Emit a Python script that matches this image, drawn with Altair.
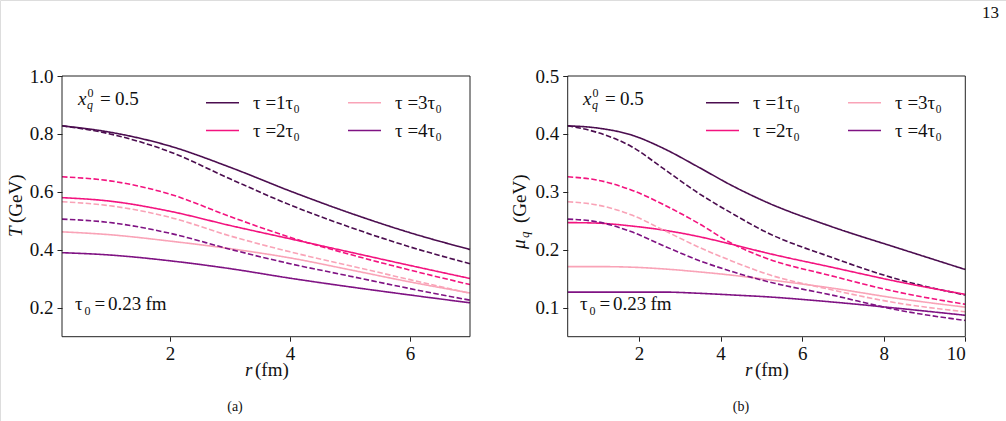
import altair as alt
import pandas as pd

# ---------------- data ----------------
tau_labels = ["τ =1τ₀", "τ =2τ₀", "τ =3τ₀", "τ =4τ₀"]
tau_colors = ["#4b0d4f", "#f3137f", "#f9a3b7", "#7f1283"]
styles = ["solid", "dashed"]

# panel (a): temperature T (GeV) vs r (fm)
r_a = [0.2, 1.0, 2.0, 3.0, 4.0, 5.0, 6.0, 7.0]
T_tau1_solid = [0.828, 0.806, 0.758, 0.685, 0.603, 0.527, 0.459, 0.401]
T_tau1_dashed = [0.828, 0.800, 0.738, 0.645, 0.555, 0.478, 0.410, 0.352]
T_tau2_solid = [0.580, 0.568, 0.533, 0.484, 0.438, 0.392, 0.346, 0.301]
T_tau2_dashed = [0.652, 0.638, 0.592, 0.515, 0.443, 0.384, 0.330, 0.280]
T_tau3_solid = [0.462, 0.452, 0.430, 0.404, 0.372, 0.331, 0.289, 0.251]
T_tau3_dashed = [0.566, 0.552, 0.512, 0.448, 0.393, 0.345, 0.297, 0.250]
T_tau4_solid = [0.390, 0.382, 0.362, 0.335, 0.302, 0.272, 0.244, 0.217]
T_tau4_dashed = [0.506, 0.494, 0.457, 0.402, 0.352, 0.309, 0.266, 0.226]

# panel (b): quark chemical potential mu_q (GeV) vs r (fm)
r_b = [0.25, 1.0, 1.82, 2.6, 3.45, 4.3, 5.1, 6.72, 8.35, 10.0]
mu_tau1_solid = [0.414, 0.410, 0.398, 0.375, 0.343, 0.310, 0.283, 0.240, 0.203, 0.166]
mu_tau1_dashed = [0.414, 0.402, 0.378, 0.340, 0.298, 0.262, 0.231, 0.187, 0.149, 0.122]
mu_tau2_solid = [0.247, 0.246, 0.241, 0.234, 0.223, 0.209, 0.195, 0.170, 0.145, 0.123]
mu_tau2_dashed = [0.326, 0.320, 0.303, 0.278, 0.246, 0.210, 0.186, 0.155, 0.127, 0.106]
mu_tau3_solid = [0.171, 0.171, 0.170, 0.167, 0.162, 0.156, 0.149, 0.134, 0.116, 0.101]
mu_tau3_dashed = [0.283, 0.277, 0.260, 0.234, 0.205, 0.180, 0.159, 0.131, 0.108, 0.093]
mu_tau4_solid = [0.127, 0.127, 0.127, 0.127, 0.125, 0.122, 0.119, 0.110, 0.099, 0.087]
mu_tau4_dashed = [0.253, 0.248, 0.231, 0.207, 0.182, 0.162, 0.146, 0.122, 0.096, 0.078]

xticks_a = [2, 4, 6]
yticks_a = [0.2, 0.4, 0.6, 0.8, 1.0]
xticks_b = [2, 4, 6, 8, 10]
yticks_b = [0.1, 0.2, 0.3, 0.4, 0.5]


def build(r, series):
    rows = []
    for (lab, sty), vals in series:
        for x, v in zip(r, vals):
            rows.append({"r": x, "v": v, "tau": lab, "style": sty})
    return pd.DataFrame(rows)


df_a = build(r_a, [
    ((tau_labels[0], "solid"), T_tau1_solid), ((tau_labels[0], "dashed"), T_tau1_dashed),
    ((tau_labels[1], "solid"), T_tau2_solid), ((tau_labels[1], "dashed"), T_tau2_dashed),
    ((tau_labels[2], "solid"), T_tau3_solid), ((tau_labels[2], "dashed"), T_tau3_dashed),
    ((tau_labels[3], "solid"), T_tau4_solid), ((tau_labels[3], "dashed"), T_tau4_dashed),
])
df_b = build(r_b, [
    ((tau_labels[0], "solid"), mu_tau1_solid), ((tau_labels[0], "dashed"), mu_tau1_dashed),
    ((tau_labels[1], "solid"), mu_tau2_solid), ((tau_labels[1], "dashed"), mu_tau2_dashed),
    ((tau_labels[2], "solid"), mu_tau3_solid), ((tau_labels[2], "dashed"), mu_tau3_dashed),
    ((tau_labels[3], "solid"), mu_tau4_solid), ((tau_labels[3], "dashed"), mu_tau4_dashed),
])

# ---------------- layout ----------------
W, H = 1006, 421
TOP, BOT = 76, 336.7
FONT = "Liberation Serif"
FS = 19
INK = "#111111"
one = pd.DataFrame({"a": [0]})


def txt(s, x, y, size=FS, style="normal", align="left", angle=0, baseline="alphabetic"):
    return alt.Chart(one).mark_text(
        text=s, font=FONT, fontSize=size, fontStyle=style, align=align,
        baseline=baseline, angle=angle, color=INK
    ).encode(x=alt.value(x), y=alt.value(y))


def panel(df, xdom, xrng, ydom, xticks, yticks, legx):
    xs = alt.Scale(domain=xdom, range=xrng, nice=False, zero=False)
    ys = alt.Scale(domain=ydom, range=[BOT, TOP], nice=False, zero=False)
    xaxis = alt.Axis(orient="bottom", offset=-(H - BOT), values=xticks, title=None,
                     grid=False, domain=False, tickSize=4.5, tickColor="#222",
                     labelFont=FONT, labelFontSize=FS, labelColor=INK,
                     labelPadding=3, format="d")
    yaxis = alt.Axis(orient="left", offset=-xrng[0], values=yticks, title=None,
                     grid=False, domain=False, tickSize=5, tickColor="#222",
                     labelFont=FONT, labelFontSize=FS, labelColor=INK,
                     labelPadding=4, format=".1f")
    lines = alt.Chart(df).mark_line(strokeWidth=1.6, interpolate="monotone").encode(
        x=alt.X("r:Q", scale=xs, axis=xaxis),
        y=alt.Y("v:Q", scale=ys, axis=yaxis),
        color=alt.Color("tau:N", scale=alt.Scale(domain=tau_labels, range=tau_colors),
                        legend=alt.Legend(orient="none", legendX=legx, legendY=85,
                                          columns=2, symbolType="stroke",
                                          symbolSize=1089, symbolStrokeWidth=1.6,
                                          labelFont=FONT, labelFontSize=FS,
                                          labelColor=INK, labelOffset=13,
                                          columnPadding=44, rowPadding=-2,
                                          title=None)),
        strokeDash=alt.StrokeDash("style:N",
                                  scale=alt.Scale(domain=styles, range=[[1, 0], [5.5, 2.4]]),
                                  legend=None),
        order=alt.Order("r:Q"),
    )
    frame_df = pd.DataFrame({"r": [xdom[0]], "r2": [xdom[1]], "v": [ydom[0]], "v2": [ydom[1]]})
    frame = alt.Chart(frame_df).mark_rect(fillOpacity=0, stroke="#222", strokeWidth=1).encode(
        x=alt.X("r:Q", axis=xaxis), x2="r2:Q", y=alt.Y("v:Q", axis=yaxis), y2="v2:Q"
    )
    return alt.layer(lines, frame)


left = panel(df_a, [0.2, 7.0], [62, 470], [0.1, 1.0], xticks_a, yticks_a, 205)
right = panel(df_b, [0.25, 10.0], [567.7, 965.3], [0.05, 0.5], xticks_b, yticks_b, 705)


def annotations(dx):
    return [
        txt("x", 78 + dx, 105, style="italic"),
        txt("q", 87 + dx, 109, size=12, style="italic"),
        txt("0", 87.5 + dx, 97, size=12),
        txt("=", 100 + dx, 105),
        txt("0.5", 115 + dx, 105),
        txt("τ", 75 + dx, 310),
        txt("0", 84.5 + dx, 315, size=12),
        txt("=", 94.5 + dx, 310),
        txt("0.23", 108 + dx, 310),
        txt("fm", 145.5 + dx, 310),
    ]


texts = annotations(0) + annotations(505) + [
    # axis titles
    txt("T", 16, 237, style="italic", angle=270, baseline="middle"),
    txt("(GeV)", 16, 223, angle=270, baseline="middle"),
    txt("μ", 519, 249, style="italic", angle=270, baseline="middle"),
    txt("q", 524.5, 238, size=13, style="italic", angle=270, baseline="middle"),
    txt("(GeV)", 520, 223, angle=270, baseline="middle"),
    txt("r", 245, 376, style="italic"),
    txt("(fm)", 255, 376),
    txt("r", 745, 376, style="italic"),
    txt("(fm)", 755, 376),
    # captions and page number
    txt("(a)", 235, 411, size=14, align="center"),
    txt("(b)", 741, 411, size=14, align="center"),
    txt("13", 982, 18, size=17),
]

chart = alt.layer(left, right, *texts).resolve_scale(
    x="independent", y="independent", color="independent", strokeDash="independent"
).properties(
    width=W, height=H, padding=0,
    autosize=alt.AutoSizeParams(type="none"),
).configure_view(stroke=None).configure(background="white")

chart.save("out.html", embed_options={"renderer": "svg", "actions": False})
